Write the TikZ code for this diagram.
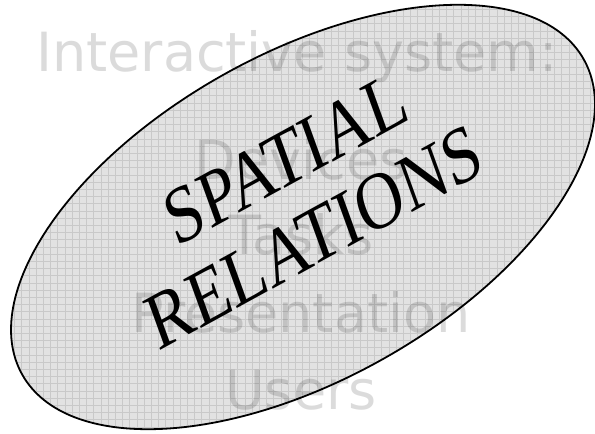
\documentclass[tikz,border=0pt]{standalone}
\usepackage{fontspec}
\newfontfamily\bgfont{DejaVu Sans}
\newfontfamily\serfont{Liberation Serif}
\definecolor{ellfill}{gray}{0.885}
\definecolor{gridcol}{gray}{0.79}
\tikzset{
  bgtext/.style={anchor=base, inner sep=0pt, text=black, text opacity=0.14, font=\bgfont\fontsize{54}{60}\selectfont},
  bigtext/.style={align=center, inner sep=0pt, font=\serfont\fontsize{66}{70}\selectfont, text=black}
}
\begin{document}
\begin{tikzpicture}[x=1pt,y=1pt]
\useasboundingbox (0,0) rectangle (595,434);
\fill[white] (0,0) rectangle (595,434);
% ellipse with grid texture
\begin{scope}
  \clip[rotate around={29.3:(303,217)}] (303,217) ellipse [x radius=322, y radius=163];
  \fill[ellfill] (0,0) rectangle (595,434);
  \draw[gridcol, line width=0.5pt, step=7.2] (0,0) grid (595,434);
\end{scope}
\draw[line width=1.8pt, rotate around={29.3:(303,217)}] (303,217) ellipse [x radius=322, y radius=163];
% background text
\node[bgtext] (t1) at (297,362) {Interactive system:};
\node[bgtext] (t2) at (301,254) {Devices};
\node[bgtext] (t3) at (301,179) {Tasks};
\node[bgtext] (t4) at (301,101) {Presentation};
\node[bgtext] (t5) at (301,24) {Users};
% main text (rotated, then stretched vertically)
\begin{scope}[shift={(300,236)}, yscale=1.23]
  \node[bigtext, rotate=24, transform shape] (main) at (0,0) {SPATIAL\\RELATIONS};
\end{scope}
\end{tikzpicture}
\end{document}
